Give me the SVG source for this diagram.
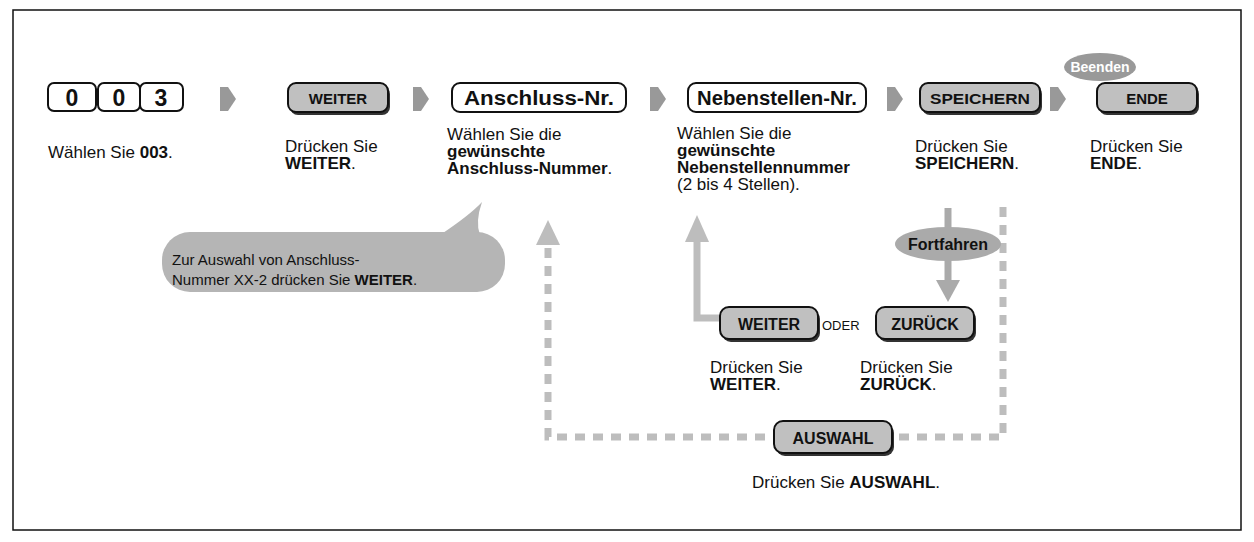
<svg xmlns="http://www.w3.org/2000/svg" width="1254" height="542" viewBox="0 0 1254 542">
<defs>
<style>
text{font-family:"Liberation Sans",Arial,sans-serif;fill:#111}
.t{font-size:17px}
.b{font-weight:bold}
.kw{fill:#fff;stroke:#111;stroke-width:2}
.kg{fill:#c0c0c0;stroke:#111;stroke-width:2}
.sh{fill:#333}
.kl{font-weight:bold;text-anchor:middle}
.fl{fill:#999}
.dash{fill:none;stroke:#bdbdbd;stroke-width:7;stroke-dasharray:10 8}
</style>
<path id="fa" d="M0,-12 L8,-12 L16,0 L8,12 L0,12 Z"/>
</defs>
<rect x="13" y="10" width="1228" height="520" fill="#fff" stroke="#111" stroke-width="1.5"/>

<g id="connectors">
<use href="#fa" x="220" y="99" class="fl"/>
<use href="#fa" x="413" y="99" class="fl"/>
<use href="#fa" x="650" y="99" class="fl"/>
<use href="#fa" x="887" y="99" class="fl"/>
<use href="#fa" x="1050" y="99" class="fl"/>
<path class="dash" d="M548,248 V437 H1003 V205"/>
<polygon points="548,220 536,245 560,245" fill="#bdbdbd"/>
<path d="M720,318 H697 V242" fill="none" stroke="#bdbdbd" stroke-width="7"/>
<polygon points="697,215 685,242 709,242" fill="#bdbdbd"/>
<path d="M948,208 V282" stroke="#aaa" stroke-width="7"/>
<polygon points="948,302 936,280 960,280" fill="#aaa"/>
</g>

<g id="n003">
<rect x="48" y="83" width="48" height="28" rx="6" class="kw"/>
<rect x="98" y="83" width="42" height="28" rx="6" class="kw"/>
<rect x="140" y="83" width="43" height="28" rx="6" class="kw"/>
<text x="72" y="106" class="kl" font-size="23">0</text>
<text x="119" y="106" class="kl" font-size="23">0</text>
<text x="161" y="106" class="kl" font-size="23">3</text>
<text x="48" y="158" class="t">Wählen Sie <tspan class="b">003</tspan>.</text>
</g>

<g id="nweiter">
<rect x="290" y="86" width="100" height="29" rx="8" class="sh"/>
<rect x="288" y="83" width="100" height="29" rx="8" class="kg"/>
<text x="338" y="104" class="kl" font-size="15">WEITER</text>
<text x="285" y="152" class="t">Drücken Sie</text>
<text x="285" y="169" class="t b">WEITER<tspan font-weight="normal">.</tspan></text>
</g>

<g id="nanschluss">
<rect x="452" y="83" width="174" height="29" rx="8" class="kw"/>
<text x="539" y="105" class="kl" font-size="20" textLength="150" lengthAdjust="spacingAndGlyphs">Anschluss-Nr.</text>
<text x="447" y="140" class="t">Wählen Sie die</text>
<text x="447" y="157" class="t b">gewünschte</text>
<text x="447" y="174" class="t b">Anschluss-Nummer<tspan font-weight="normal">.</tspan></text>
</g>

<g id="nneben">
<rect x="688" y="83" width="178" height="29" rx="8" class="kw"/>
<text x="777" y="105" class="kl" font-size="20" textLength="160" lengthAdjust="spacingAndGlyphs">Nebenstellen-Nr.</text>
<text x="677" y="139" class="t">Wählen Sie die</text>
<text x="677" y="156" class="t b">gewünschte</text>
<text x="677" y="173" class="t b">Nebenstellennummer</text>
<text x="677" y="190" class="t">(2 bis 4 Stellen).</text>
</g>

<g id="nspeichern">
<rect x="922" y="86" width="120" height="29" rx="8" class="sh"/>
<rect x="920" y="83" width="120" height="29" rx="8" class="kg"/>
<text x="980" y="104" class="kl" font-size="15" textLength="100" lengthAdjust="spacingAndGlyphs">SPEICHERN</text>
<text x="915" y="152" class="t">Drücken Sie</text>
<text x="915" y="169" class="t b">SPEICHERN<tspan font-weight="normal">.</tspan></text>
</g>

<g id="nende">
<rect x="1099" y="86" width="100" height="29" rx="8" class="sh"/>
<rect x="1097" y="83" width="100" height="29" rx="8" class="kg"/>
<text x="1147" y="104" class="kl" font-size="15">ENDE</text>
<text x="1090" y="152" class="t">Drücken Sie</text>
<text x="1090" y="169" class="t b">ENDE<tspan font-weight="normal">.</tspan></text>
</g>

<g id="nbeenden">
<ellipse cx="1100" cy="67" rx="36" ry="14" fill="#999"/>
<text x="1100" y="72" class="kl" font-size="14" style="fill:#fff">Beenden</text>
</g>

<g id="nbubble">
<path d="M440,235 Q470,215 482,202 Q475,222 480,235 Z" fill="#b5b5b5"/>
<rect x="162" y="232" width="343" height="60" rx="28" fill="#b5b5b5"/>
<text x="172" y="265" font-size="15">Zur Auswahl von Anschluss-</text>
<text x="172" y="285" font-size="15">Nummer XX-2 drücken Sie <tspan class="b">WEITER</tspan>.</text>
</g>

<g id="nfort">
<ellipse cx="948" cy="244" rx="53" ry="17" fill="#aaa"/>
<text x="948" y="250" class="kl" font-size="16">Fortfahren</text>
</g>

<g id="nweiter2">
<rect x="722" y="310" width="98" height="32" rx="9" class="sh"/>
<rect x="720" y="307" width="98" height="32" rx="9" class="kg"/>
<text x="769" y="330" class="kl" font-size="16">WEITER</text>
<text x="822" y="330" font-size="13">ODER</text>
<text x="710" y="373" class="t">Drücken Sie</text>
<text x="710" y="390" class="t b">WEITER<tspan font-weight="normal">.</tspan></text>
</g>

<g id="nzurueck">
<rect x="878" y="310" width="98" height="32" rx="9" class="sh"/>
<rect x="876" y="307" width="98" height="32" rx="9" class="kg"/>
<text x="925" y="330" class="kl" font-size="16">ZURÜCK</text>
<text x="860" y="373" class="t">Drücken Sie</text>
<text x="860" y="390" class="t b">ZURÜCK<tspan font-weight="normal">.</tspan></text>
</g>

<g id="nauswahl">
<rect x="776" y="424" width="118" height="32" rx="9" class="sh"/>
<rect x="774" y="421" width="118" height="32" rx="9" class="kg"/>
<text x="833" y="444" class="kl" font-size="16">AUSWAHL</text>
<text x="752" y="488" class="t">Drücken Sie <tspan class="b">AUSWAHL</tspan>.</text>
</g>
</svg>
